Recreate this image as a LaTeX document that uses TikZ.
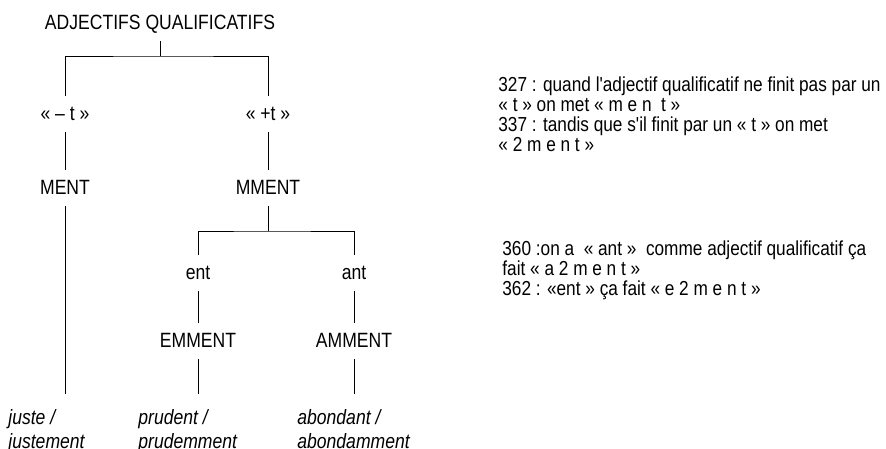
\documentclass[tikz,border=0pt]{standalone}
\usepackage{fontspec}
\setmainfont{Liberation Sans}[FakeStretch=0.85,Ligatures=TeXOff]
\setlength{\lineskiplimit}{-20pt}
\begin{document}
\begin{tikzpicture}
[x=0.75pt,y=-0.75pt,line width=0.6pt,
 font=\fontsize{15.5}{15.2}\selectfont,
 lbl/.style={inner xsep=1pt,inner ysep=0pt,text height=18.3pt,text depth=8.7pt},
 ex/.style={align=left,anchor=north west,inner xsep=0pt,inner ysep=11pt,
   font=\fontsize{15.5}{18}\selectfont\itshape},
 note/.style={align=left,anchor=north west,inner sep=0pt,
   font=\fontsize{15.2}{15.2}\selectfont}]
 \useasboundingbox (0,0) rectangle (886,449);
 \node (adj) [lbl] at (160,23) {ADJECTIFS QUALIFICATIFS};
 \node (mt) [lbl] at (65,114) {« – t »};
 \node (pt) [lbl] at (268,114) {« +t »};
 \node (ment) [lbl,below of=mt,node distance=55.5pt] {MENT};
 \node (mment) [lbl,below of=pt,node distance=55.5pt] {MMENT};
 \node (ent) [lbl] at (198,273) {ent};
 \node (ant) [lbl] at (354,273) {ant};
 \node (emment) [lbl,below of=ent,node distance=51pt] {EMMENT};
 \node (amment) [lbl,below of=ant,node distance=51pt] {AMMENT};
 \node (jus) [ex] at (8,394) {juste /\\justement};
 \node (pru) [ex] at (138,394) {prudent /\\prudemment};
 \node (abo) [ex] at (297,394) {abondant /\\abondamment};

 \coordinate (b1) at (adj |- 0,56);
 \coordinate (b2) at (mment |- 0,231);
 \draw (adj) -- (b1);
 \draw (mt) |- (b1) -| (pt);
 \draw (mment) -- (b2);
 \draw (ent) |- (b2) -| (ant);
 \draw (mt) edge (ment) (pt) edge (mment);
 \draw (ent) edge (emment) (ant) edge (amment);
 \draw (ment) -- (ment |- jus.north);
 \draw (emment) -- (emment |- pru.north);
 \draw (amment) -- (amment |- abo.north);

 \node (n1) [note] at (498,76) {327 : quand l'adjectif qualificatif ne finit pas par un\\
   « t » on met « m e n\ \ t »\\
   337 : tandis que s'il finit par un « t » on met\\
   « 2 m e n t »};
 \node (n2) [note] at (502,240) {360 :on a\ \ « ant »\ \ comme adjectif qualificatif ça\\
   fait « a 2 m e n t »\\
   362 : «ent » ça fait « e 2 m e n t »};
\end{tikzpicture}
\end{document}
